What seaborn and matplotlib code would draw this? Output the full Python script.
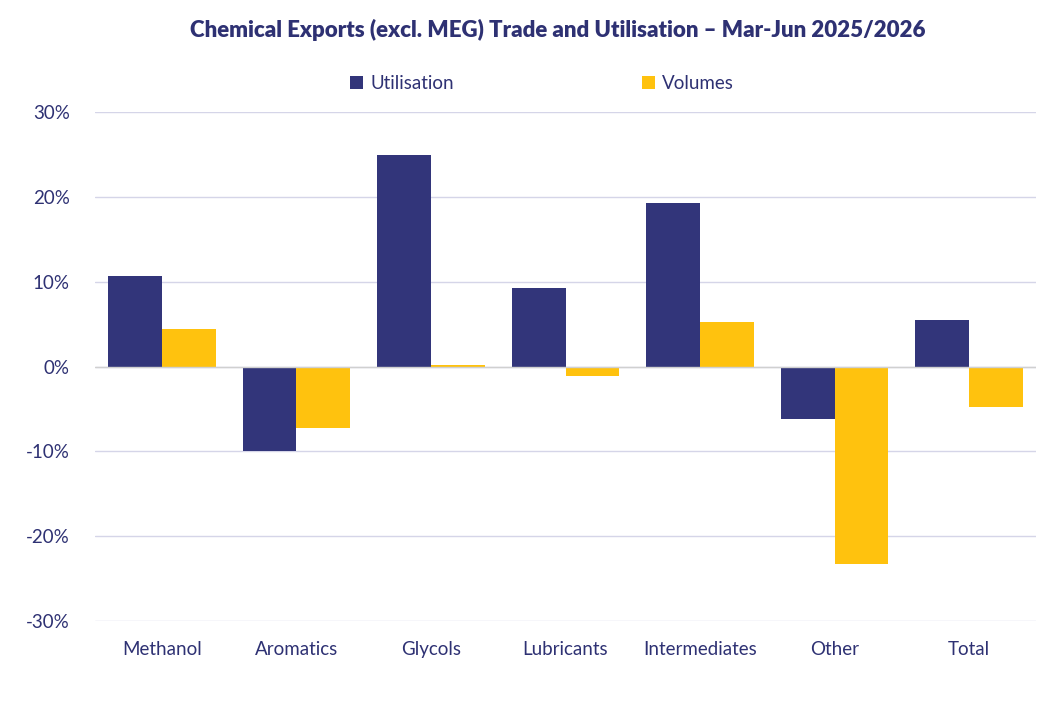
import matplotlib
matplotlib.use("Agg")
import matplotlib.pyplot as plt
import seaborn as sns
import pandas as pd
from matplotlib.ticker import FuncFormatter

categories = ["Methanol", "Aromatics", "Glycols", "Lubricants", "Intermediates", "Other", "Total"]
utilisation = [10.7, -10.0, 24.9, 9.3, 19.3, -6.2, 5.5]
volumes = [4.4, -7.2, 0.2, -1.1, 5.2, -23.3, -4.8]

df = pd.DataFrame({
    "cat": categories * 2,
    "val": utilisation + volumes,
    "series": ["Utilisation"] * len(categories) + ["Volumes"] * len(categories),
})

sns.set_theme(style="white")
plt.rcParams['font.family'] = ['Lato', 'DejaVu Sans']
txt = "#2E3173"

fig = plt.figure(figsize=(10.63, 7.09), dpi=100)
ax = fig.add_axes([0.089, 0.124, 0.886, 0.718])
sns.barplot(data=df, x="cat", y="val", hue="series", palette=["#32357A", "#FFC20E"],
            width=0.8, saturation=1, ax=ax, legend=True, linewidth=0, edgecolor="none")
ax.set_ylim(-30, 30)
ax.set_yticks(range(-30, 31, 10))
ax.yaxis.set_major_formatter(FuncFormatter(lambda v, p: f"{int(v)}%"))
ax.grid(axis="y", color="#D5D5E8", linewidth=1)
ax.set_axisbelow(True)
ax.axhline(0, color="#D0D0D0", linewidth=1)
for s in ax.spines.values():
    s.set_visible(False)
ax.set_xlabel("")
ax.set_ylabel("")
ax.tick_params(axis="both", colors=txt, labelsize=13.5, length=0)
ax.tick_params(axis="x", pad=14)
ax.tick_params(axis="y", pad=18)
leg = ax.legend(loc="upper center", bbox_to_anchor=(0.475, 1.105), ncol=2, frameon=False,
                fontsize=13.5, handlelength=0.7, handleheight=0.7, columnspacing=10, handletextpad=0.4)
for t in leg.get_texts():
    t.set_color(txt)
fig.text(0.525, 0.958, "Chemical Exports (excl. MEG) Trade and Utilisation – Mar-Jun 2025/2026",
         ha="center", va="center", fontsize=16, fontweight="heavy", color=txt)
fig.savefig("out.png", dpi=100)
